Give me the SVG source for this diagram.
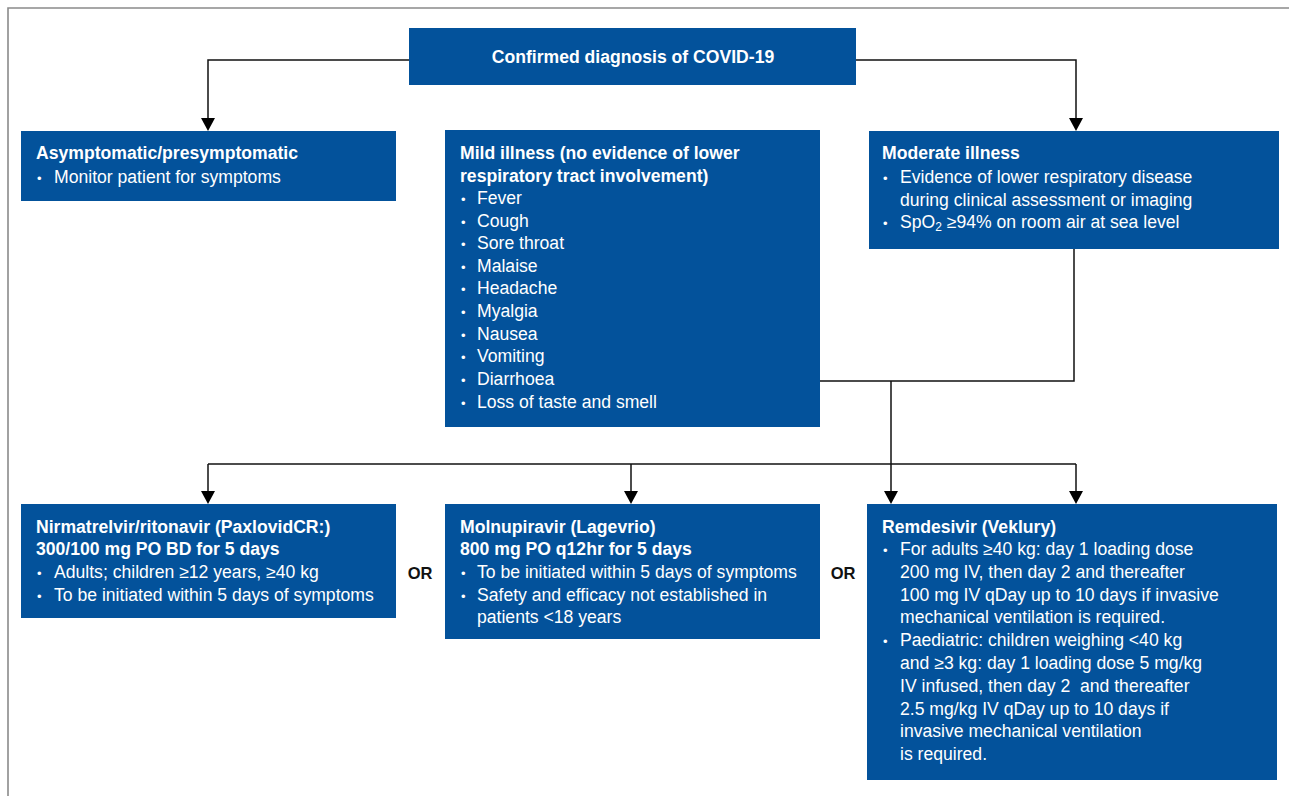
<svg xmlns="http://www.w3.org/2000/svg" width="1289" height="796" viewBox="0 0 1289 796">
<style>
.box{fill:#03529b}
.t{font-family:"Liberation Sans",Arial,sans-serif;font-size:17.6px;fill:#fff}
.b{font-weight:bold}
.bul{font-size:13px}
.or{font-family:"Liberation Sans",Arial,sans-serif;font-size:16.5px;font-weight:bold;fill:#111}
.ln{fill:none;stroke:#111;stroke-width:1.5}
.frame{fill:none;stroke:#8a8a8a;stroke-width:1.6}
.pre{white-space:pre}
</style>
<rect width="1289" height="796" fill="#fff"/>
<path class="frame" d="M8,796 L8,8 L1289,8"/>

<g id="connectors">
<path class="ln" d="M409,60 L208,60 L208,118"/>
<path d="M201,118 L215,118 L208,131 Z" fill="#000"/>
<path class="ln" d="M856,60 L1076,60 L1076,118"/>
<path d="M1069,118 L1083,118 L1076,131 Z" fill="#000"/>
<path class="ln" d="M1074,249 L1074,381 L820,381"/>
<path class="ln" d="M891,381 L891,491"/>
<path class="ln" d="M208,464 L1076,464"/>
<path class="ln" d="M208,464 L208,491"/>
<path class="ln" d="M631,464 L631,491"/>
<path class="ln" d="M1076,464 L1076,491"/>
<path d="M201,491 L215,491 L208,504 Z" fill="#000"/>
<path d="M624,491 L638,491 L631,504 Z" fill="#000"/>
<path d="M884,491 L898,491 L891,504 Z" fill="#000"/>
<path d="M1069,491 L1083,491 L1076,504 Z" fill="#000"/>
</g>

<g id="confirmed">
<rect class="box" x="409" y="28" width="447" height="57"/>
<text class="t b" x="633" y="63" text-anchor="middle">Confirmed diagnosis of COVID-19</text>
</g>

<g id="asymptomatic">
<rect class="box" x="21" y="131" width="375" height="70"/>
<text class="t b" x="36" y="159">Asymptomatic/presymptomatic</text>
<text class="t" y="183"><tspan class="bul" x="37">•</tspan><tspan x="54">Monitor patient for symptoms</tspan></text>
</g>

<g id="mild">
<rect class="box" x="445" y="130" width="375" height="297"/>
<text class="t b" x="460" y="159">Mild illness (no evidence of lower</text>
<text class="t b" x="460" y="182">respiratory tract involvement)</text>
<text class="t" y="204"><tspan class="bul" x="461">•</tspan><tspan x="477">Fever</tspan></text>
<text class="t" y="227"><tspan class="bul" x="461">•</tspan><tspan x="477">Cough</tspan></text>
<text class="t" y="249"><tspan class="bul" x="461">•</tspan><tspan x="477">Sore throat</tspan></text>
<text class="t" y="272"><tspan class="bul" x="461">•</tspan><tspan x="477">Malaise</tspan></text>
<text class="t" y="294"><tspan class="bul" x="461">•</tspan><tspan x="477">Headache</tspan></text>
<text class="t" y="317"><tspan class="bul" x="461">•</tspan><tspan x="477">Myalgia</tspan></text>
<text class="t" y="340"><tspan class="bul" x="461">•</tspan><tspan x="477">Nausea</tspan></text>
<text class="t" y="362"><tspan class="bul" x="461">•</tspan><tspan x="477">Vomiting</tspan></text>
<text class="t" y="385"><tspan class="bul" x="461">•</tspan><tspan x="477">Diarrhoea</tspan></text>
<text class="t" y="408"><tspan class="bul" x="461">•</tspan><tspan x="477">Loss of taste and smell</tspan></text>
</g>

<g id="moderate">
<rect class="box" x="869" y="131" width="410" height="118"/>
<text class="t b" x="882" y="159">Moderate illness</text>
<text class="t" y="183"><tspan class="bul" x="883">•</tspan><tspan x="900">Evidence of lower respiratory disease</tspan></text>
<text class="t" x="900" y="206">during clinical assessment or imaging</text>
<text class="t" y="228"><tspan class="bul" x="883">•</tspan><tspan x="900">SpO</tspan><tspan font-size="12" dy="3">2</tspan><tspan dy="-3"> ≥94% on room air at sea level</tspan></text>
</g>

<g id="nirmatrelvir">
<rect class="box" x="21" y="504" width="375" height="114"/>
<text class="t b" x="36" y="533">Nirmatrelvir/ritonavir (PaxlovidCR:)</text>
<text class="t b" x="36" y="555">300/100 mg PO BD for 5 days</text>
<text class="t" y="578"><tspan class="bul" x="37">•</tspan><tspan x="54">Adults; children ≥12 years, ≥40 kg</tspan></text>
<text class="t" y="601"><tspan class="bul" x="37">•</tspan><tspan x="54">To be initiated within 5 days of symptoms</tspan></text>
</g>

<g id="or1"><text class="or" x="420" y="579" text-anchor="middle">OR</text></g>

<g id="molnupiravir">
<rect class="box" x="445" y="504" width="375" height="135"/>
<text class="t b" x="460" y="533">Molnupiravir (Lagevrio)</text>
<text class="t b" x="460" y="555">800 mg PO q12hr for 5 days</text>
<text class="t" y="578"><tspan class="bul" x="461">•</tspan><tspan x="477">To be initiated within 5 days of symptoms</tspan></text>
<text class="t" y="601"><tspan class="bul" x="461">•</tspan><tspan x="477">Safety and efficacy not established in</tspan></text>
<text class="t" x="477" y="623">patients &lt;18 years</text>
</g>

<g id="or2"><text class="or" x="843" y="579" text-anchor="middle">OR</text></g>

<g id="remdesivir">
<rect class="box" x="867" y="504" width="410" height="276"/>
<text class="t b" x="882" y="533">Remdesivir (Veklury)</text>
<text class="t" y="555"><tspan class="bul" x="883">•</tspan><tspan x="900">For adults ≥40 kg: day 1 loading dose</tspan></text>
<text class="t" x="900" y="578">200 mg IV, then day 2 and thereafter</text>
<text class="t" x="900" y="601">100 mg IV qDay up to 10 days if invasive</text>
<text class="t" x="900" y="623">mechanical ventilation is required.</text>
<text class="t" y="646"><tspan class="bul" x="883">•</tspan><tspan x="900">Paediatric: children weighing &lt;40 kg</tspan></text>
<text class="t" x="900" y="669">and ≥3 kg: day 1 loading dose 5 mg/kg</text>
<text class="t pre" x="900" y="692">IV infused, then day 2  and thereafter</text>
<text class="t" x="900" y="715">2.5 mg/kg IV qDay up to 10 days if</text>
<text class="t" x="900" y="737">invasive mechanical ventilation</text>
<text class="t" x="900" y="760">is required.</text>
</g>
</svg>
